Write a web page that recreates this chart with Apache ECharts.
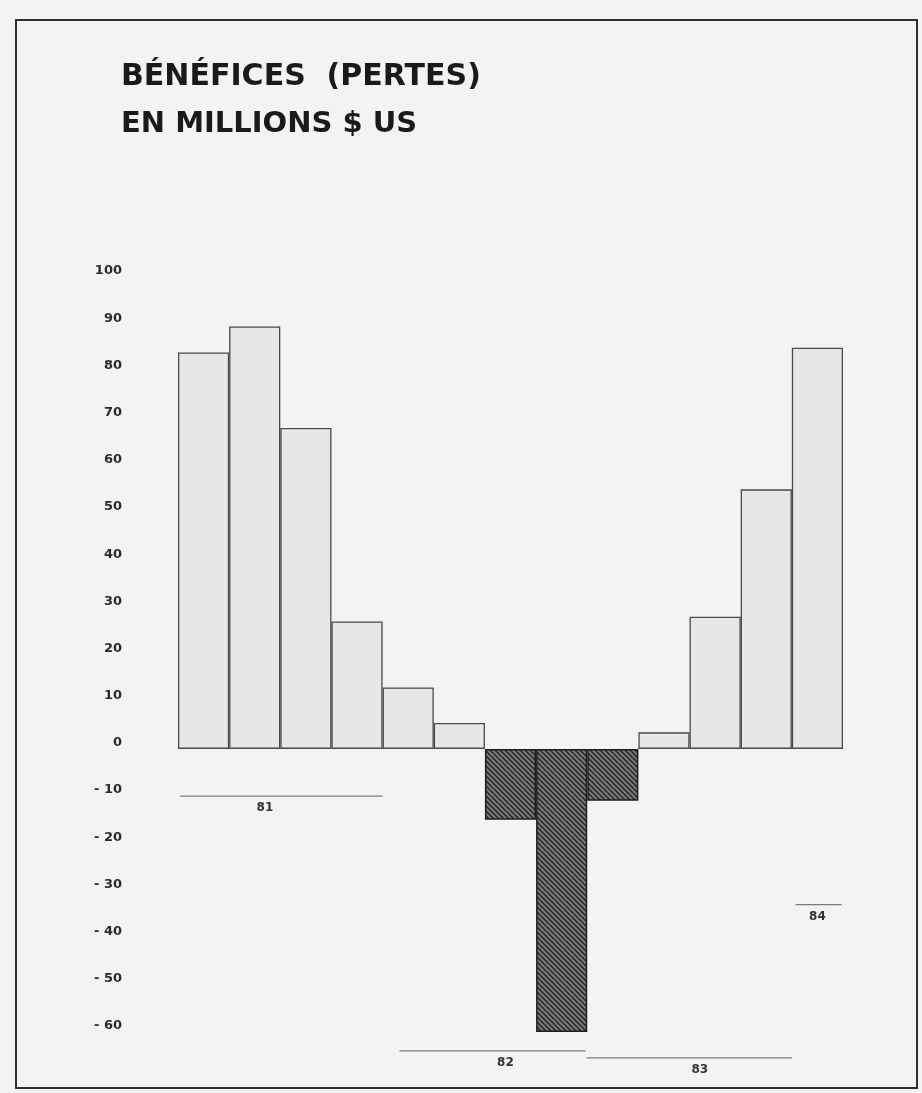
<!DOCTYPE html>
<html>
<head>
<meta charset="utf-8">
<script src="https://cdn.jsdelivr.net/npm/echarts@6/dist/echarts.min.js"></script>
<style>
  html, body { margin: 0; padding: 0; background: #f3f3f3; }
  #chart { width: 922px; height: 1093px; }
</style>
</head>
<body>
<div id="chart"></div>
<script>
// Quarterly profits (losses), millions US$ : 1981 Q1 .. 1984 Q1
const categories = ['81 T1','81 T2','81 T3','81 T4','82 T1','82 T2','82 T3','82 T4','83 T1','83 T2','83 T3','83 T4','84 T1'];
const values = [84, 89.5, 68, 27, 13, 5.5, -15, -60, -11, 3.5, 28, 55, 85];

// year annotation lines under the bars (in quarter units along the x axis)
const yearLabels = ['81', '82', '83', '84'];
const yearStart = [0.04, 4.33, 7.99, 12.07];
const yearEnd = [4.0, 7.97, 12.0, 12.97];
const yearLevel = [-10, -64, -65.5, -33];
const yearLabelAt = [1.7, 6.4, 10.2, 12.5];

// y ticks
const yMin = -60, yMax = 100, yStep = 10;

const titleLines = ['BÉNÉFICES  (PERTES)', 'EN MILLIONS $ US'];

// hatch pattern for losses
const hatch = document.createElement('canvas');
hatch.width = 5; hatch.height = 5;
const hctx = hatch.getContext('2d');
hctx.fillStyle = '#808080';
hctx.fillRect(0, 0, 5, 5);
hctx.strokeStyle = '#2e2e2e';
hctx.lineWidth = 1.7;
hctx.beginPath();
[-5, 0, 5].forEach(k => { hctx.moveTo(k - 1, -1); hctx.lineTo(k + 6, 6); });
hctx.stroke();

const chart = echarts.init(document.getElementById('chart'));

const barData = values.map(v => v < 0
  ? { value: v, itemStyle: { color: { image: hatch, repeat: 'repeat' }, borderColor: '#1e1e1e', borderWidth: 1.5 } }
  : { value: v });

const yearData = yearLabels.map((l, i) => [yearStart[i], yearEnd[i], yearLevel[i], yearLabelAt[i], l]);

chart.setOption({
  backgroundColor: '#f3f3f3',
  animation: false,
  graphic: [
    { type: 'rect', shape: { x: 16, y: 20, width: 901, height: 1068 }, style: { fill: 'none', stroke: '#2e2e2e', lineWidth: 2 }, silent: true },
    { type: 'text', x: 121, y: 77, style: { text: titleLines[0], font: 'bold 30px "DejaVu Sans"', fill: '#1a1a1a', verticalAlign: 'middle' } },
    { type: 'text', x: 121, y: 124, style: { text: titleLines[1], font: 'bold 29px "DejaVu Sans"', fill: '#1a1a1a', verticalAlign: 'middle' } }
  ],
  grid: { left: 178, right: 79, top: 277, height: 755, containLabel: false },
  xAxis: [
    { type: 'category', data: categories, show: false, boundaryGap: true },
    { type: 'value', min: 0, max: 13, show: false, gridIndex: 0 }
  ],
  yAxis: {
    type: 'value', min: yMin, max: yMax, interval: yStep,
    axisLine: { show: false }, axisTick: { show: false }, splitLine: { show: false },
    axisLabel: {
      margin: 56, color: '#2a2a2a', fontFamily: 'DejaVu Sans', fontWeight: 'bold', fontSize: 13,
      verticalAlign: 'bottom', lineHeight: 12,
      formatter: v => v < 0 ? '- ' + (-v) : String(v)
    }
  },
  series: [
    {
      type: 'bar', data: barData, barCategoryGap: '0%', barGap: '0%',
      itemStyle: { color: '#e7e7e7', borderColor: '#4a4a4a', borderWidth: 1.3 },
      silent: true
    },
    {
      type: 'custom', xAxisIndex: 1, yAxisIndex: 0, data: yearData, silent: true, clip: false,
      renderItem: (params, api) => {
        const p1 = api.coord([api.value(0), api.value(2)]);
        const p2 = api.coord([api.value(1), api.value(2)]);
        const pl = api.coord([api.value(3), api.value(2)]);
        return {
          type: 'group',
          children: [
            { type: 'line', shape: { x1: p1[0], y1: p1[1], x2: p2[0], y2: p2[1] }, style: { stroke: '#7a7a7a', lineWidth: 1.2 } },
            { type: 'text', style: { text: yearData[params.dataIndex][4], x: pl[0], y: pl[1] + 12, align: 'center', verticalAlign: 'middle', font: 'bold 12px "DejaVu Sans"', fill: '#333' } }
          ]
        };
      }
    }
  ]
});
</script>
</body>
</html>
